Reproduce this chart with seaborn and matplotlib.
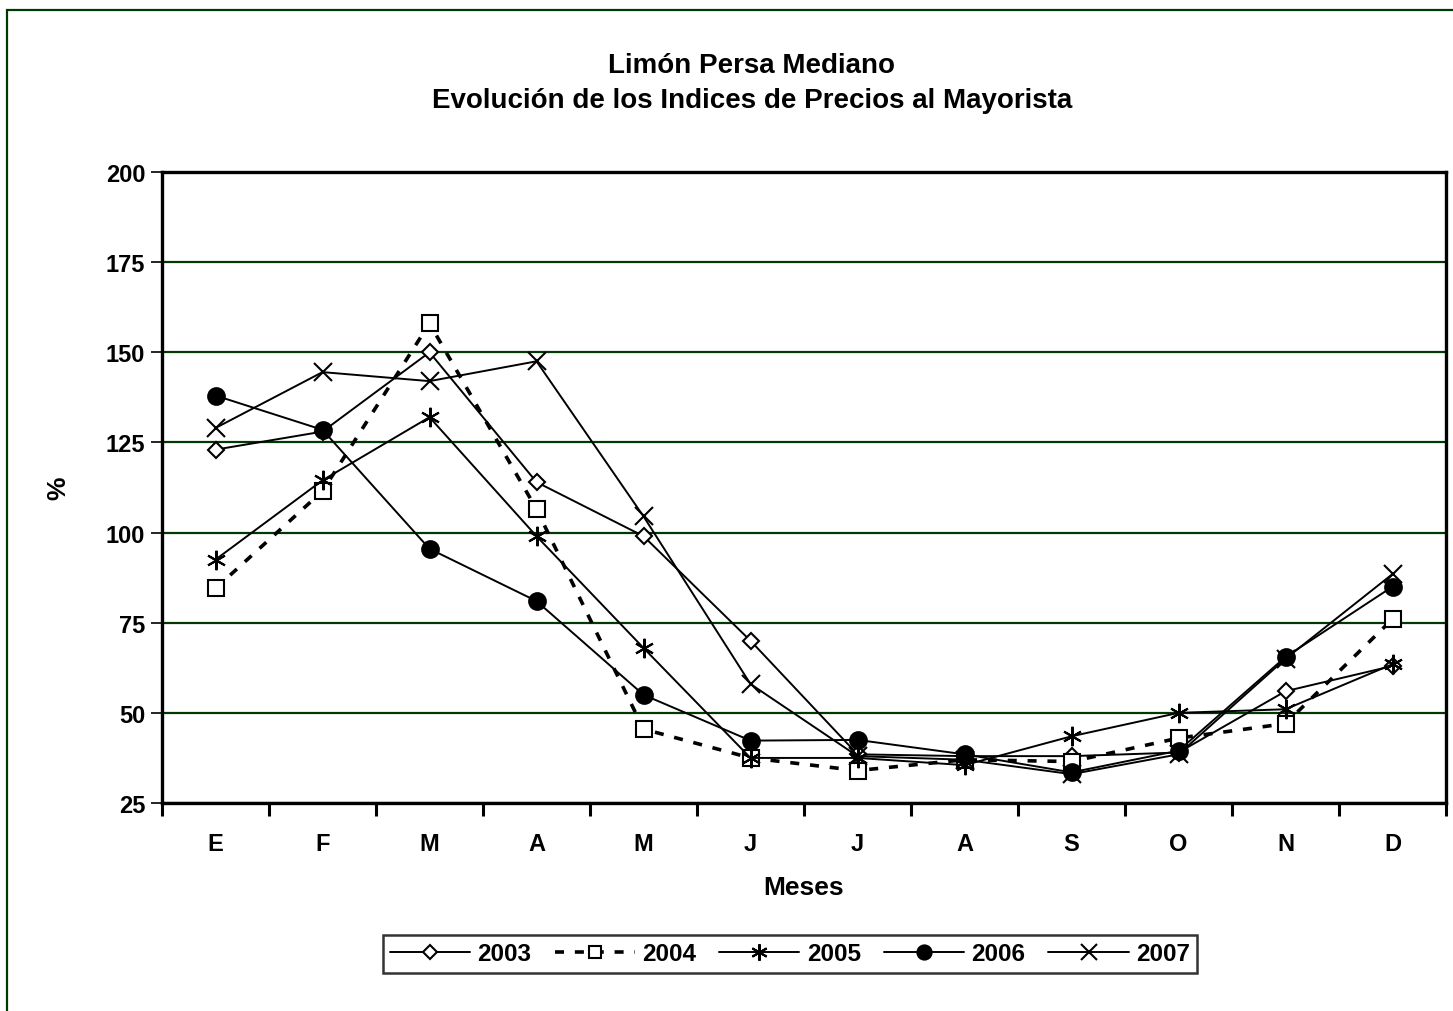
import numpy as np
import pandas as pd
import seaborn as sns
import matplotlib.pyplot as plt
from matplotlib.patches import Rectangle
from matplotlib.lines import Line2D

# ----------------------------------------
# Datos
# ----------------------------------------
meses = ['E', 'F', 'M', 'A', 'M', 'J', 'J', 'A', 'S', 'O', 'N', 'D']
anios = ['2003', '2004', '2005', '2006', '2007']

v2003 = [123, 128, 150, 114, 99, 70, 38.5, 38, 38, 39, 56, 63]
v2004 = [84.5, 111.5, 158, 106.5, 45.5, 37.5, 34, 37, 36.5, 43, 47, 76]
v2005 = [92.5, 114.5, 132, 99, 68, 37.5, 37.5, 35.5, 43.5, 50, 51, 63.5]
v2006 = [138, 128.5, 95.5, 81, 55, 42.3, 42.5, 38.5, 33.5, 39.5, 65.5, 85]
v2007 = [129, 144.5, 142, 147.5, 104.5, 58, 38, 37, 33, 38.5, 65, 88.5]

valores = [v2003, v2004, v2005, v2006, v2007]

# estilo de cada serie
marcadores = ['D', 's', (6, 2, 0), 'o', 'x']
tamanos = [8, 11, 14, 12, 13]
rellenos = ['white', 'white', 'black', 'black', 'black']
lineas = ['-', (0, (2.5, 3)), '-', '-', '-']
grosores = [1.4, 2.6, 1.4, 1.4, 1.4]

VERDE = '#003a00'

# ----------------------------------------
# Grafico
# ----------------------------------------
sns.set_theme(style='white')
plt.rcParams['font.family'] = ['Liberation Sans', 'DejaVu Sans']
plt.rcParams['font.weight'] = 'bold'
plt.rcParams['text.color'] = 'black'
plt.rcParams['axes.labelcolor'] = 'black'
plt.rcParams['xtick.color'] = 'black'
plt.rcParams['ytick.color'] = 'black'

fig = plt.figure(figsize=(14.53, 10.12), dpi=100)
ax = fig.add_axes([162 / 1453, 1 - 804 / 1012, (1446 - 162) / 1453, (804 - 173) / 1012])

pos = np.arange(len(meses))
handles = []
for i, anio in enumerate(anios):
    df = pd.DataFrame({'mes': pos, 'valor': valores[i]})
    sns.lineplot(data=df, x='mes', y='valor', ax=ax, color='black',
                 linewidth=grosores[i], linestyle=lineas[i],
                 marker=marcadores[i], markersize=tamanos[i],
                 markerfacecolor=rellenos[i], markeredgecolor='black',
                 markeredgewidth=1.5, zorder=3)
    handles.append(Line2D([], [], color='black', linewidth=grosores[i],
                          linestyle=lineas[i], marker=marcadores[i],
                          markersize=tamanos[i] * 0.85, markerfacecolor=rellenos[i],
                          markeredgecolor='black', markeredgewidth=1.5, label=anio))

ax.set_xlim(-0.5, 11.5)
ax.set_ylim(25, 200)
ax.set_yticks(range(25, 201, 25))
ax.set_xticks(pos)
ax.set_xticklabels(meses)
ax.set_xticks(np.arange(-0.5, 12, 1), minor=True)
ax.tick_params(axis='x', which='major', length=0, pad=21, labelsize=17)
ax.tick_params(axis='x', which='minor', length=9, width=2.2, direction='out', bottom=True)
ax.tick_params(axis='y', length=8, width=1.2, direction='out', left=True, labelsize=17, pad=4)
for lbl in ax.get_xticklabels() + ax.get_yticklabels():
    lbl.set_fontweight('bold')

ax.yaxis.grid(True, color=VERDE, linewidth=1.6)
ax.xaxis.grid(False)
ax.set_axisbelow(True)
for s in ax.spines.values():
    s.set_color('black')
    s.set_linewidth(2.4)

ax.set_xlabel('Meses', fontsize=19, fontweight='bold', va='center')
ax.xaxis.set_label_coords(0.5, (804 - 888) / 631)
ax.set_ylabel('%', fontsize=19, fontweight='bold', va='center')
ax.yaxis.set_label_coords((58 - 162) / 1284, 0.5)

fig.text(752 / 1453, 1 - 66 / 1012, 'Limón Persa Mediano', ha='center', va='center',
         fontsize=20, fontweight='bold')
fig.text(752 / 1453, 1 - 101 / 1012, 'Evolución de los Indices de Precios al Mayorista',
         ha='center', va='center', fontsize=20, fontweight='bold')

leg = fig.legend(handles=handles, loc='center', bbox_to_anchor=(790 / 1453, 1 - 955 / 1012),
                 ncol=5, fontsize=17.5, frameon=True, fancybox=False, handlelength=3.3,
                 columnspacing=0.95, handletextpad=0.3, borderpad=0.3)
leg.get_frame().set_edgecolor('black')
leg.get_frame().set_linewidth(1.8)
for t in leg.get_texts():
    t.set_fontweight('bold')

# marco verde exterior
fig.patches.append(Rectangle((7 / 1453, -0.2), 2, 1.2 - 11 / 1012, transform=fig.transFigure,
                             fill=False, edgecolor=VERDE, linewidth=1.6))

fig.savefig('out.png', dpi=100)
